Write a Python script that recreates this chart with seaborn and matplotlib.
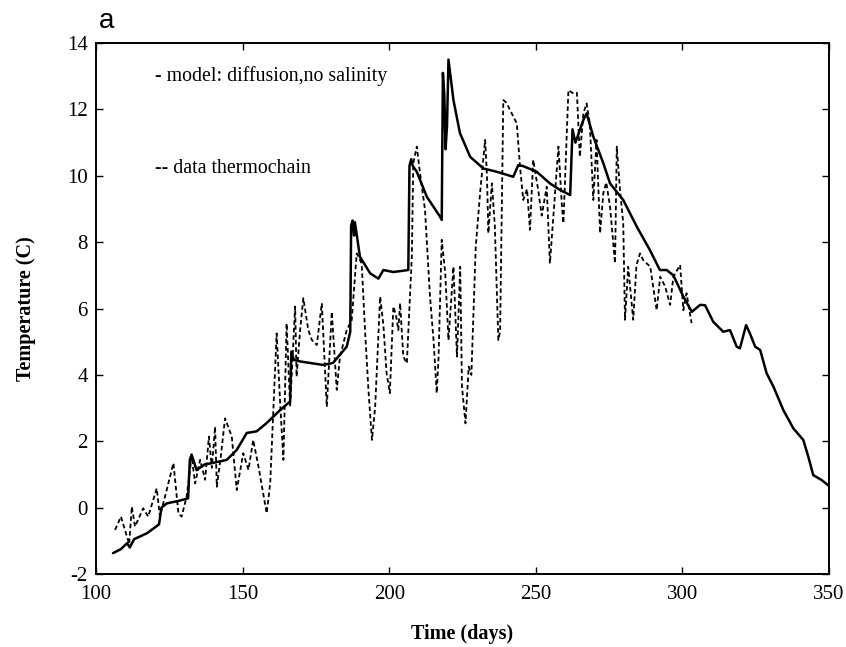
import matplotlib
matplotlib.use("Agg")
import matplotlib.pyplot as plt
import seaborn as sns
import pandas as pd

# ---- data ----
model_day = [105.8, 108.5, 110.6, 111.5, 113.0, 117.4, 120.8, 121.5, 122.3, 124.2, 128.0, 131.4,
             132.0, 132.6, 134.3, 137.0, 140.0, 144.6, 148.0, 151.4, 154.8, 158.2, 162.8, 166.2,
             166.6, 167.5, 170.0, 177.4, 180.8, 185.5, 186.7, 187.0, 187.5, 188.0, 188.3, 190.0,
             193.5, 196.3, 198.0, 201.4, 206.5, 206.9, 207.5, 208.0, 209.4, 212.8, 217.3, 217.9,
             218.3, 218.8, 219.2, 219.7, 220.2, 221.9, 224.1, 227.6, 232.1, 236.7, 242.3, 244.0,
             245.7, 250.3, 254.8, 258.3, 261.7, 262.5, 263.5, 266.2, 267.3, 269.6, 273.0, 275.3,
             279.8, 284.4, 288.9, 292.3, 294.6, 296.9, 300.3, 303.2, 306.0, 307.7, 310.5, 313.9,
             316.2, 318.5, 319.6, 321.7, 323.0, 324.8, 326.5, 328.7, 331.0, 334.4, 337.8, 341.2,
             342.9, 344.6, 347.5, 350.3]
model_temp = [-1.37, -1.25, -1.07, -1.2, -0.95, -0.77, -0.55, -0.5, 0.0, 0.13, 0.2, 0.28,
              1.45, 1.6, 1.13, 1.3, 1.35, 1.44, 1.74, 2.25, 2.3, 2.55, 2.94, 3.2,
              4.7, 4.45, 4.4, 4.3, 4.36, 4.85, 5.3, 8.5, 8.65, 8.2, 8.6, 7.56,
              7.06, 6.9, 7.16, 7.1, 7.16, 10.3, 10.5, 10.3, 10.12, 9.37, 8.77, 8.67,
              13.1, 12.4, 10.8, 11.5, 13.5, 12.28, 11.29, 10.57, 10.22, 10.12, 9.97, 10.32,
              10.29, 10.12, 9.77, 9.57, 9.42, 11.4, 11.0, 11.68, 11.88, 11.18, 10.38, 9.77,
              9.27, 8.47, 7.76, 7.16, 7.16, 7.0, 6.36, 5.9, 6.11, 6.1, 5.6, 5.3,
              5.35, 4.85, 4.8, 5.5, 5.25, 4.85, 4.75, 4.05, 3.65, 2.94, 2.39, 2.04,
              1.54, 0.98, 0.83, 0.63]

data_day = [106.5, 108.5, 110.5, 111.3, 112.2, 113.3, 116.1, 117.8, 120.7, 121.8, 123.5, 126.4,
            128.1, 129.2, 130.9, 132.6, 133.8, 135.5, 137.2, 138.5, 139.5, 140.6, 141.2, 142.5,
            144.0, 146.3, 148.0, 150.2, 152.0, 153.6, 155.4, 158.2, 159.4, 161.6, 162.8, 163.9,
            165.0, 166.2, 167.9, 168.4, 169.6, 170.7, 172.4, 173.6, 175.3, 177.0, 178.7, 180.4,
            182.1, 183.2, 185.5, 187.2, 188.9, 190.6, 191.8, 192.9, 194.1, 195.2, 196.9, 198.0,
            199.1, 200.2, 201.4, 202.3, 203.1, 203.7, 204.8, 206.0, 207.7, 208.2, 209.4, 210.5,
            212.2, 213.9, 215.1, 216.2, 216.8, 217.9, 219.1, 220.2, 221.9, 223.1, 224.2, 224.8,
            226.0, 227.1, 228.0, 229.5, 231.0, 232.7, 233.3, 233.8, 235.0, 236.0, 237.2, 237.8,
            238.9, 240.0, 241.2, 243.5, 244.6, 245.7, 247.0, 248.0, 249.1, 250.8, 252.0, 253.7,
            254.8, 256.3, 257.7, 258.9, 259.4, 261.1, 262.8, 264.0, 265.0, 266.2, 267.3, 268.4,
            269.6, 270.7, 271.9, 273.0, 274.0, 275.3, 277.0, 277.6, 278.7, 279.8, 280.4, 281.5,
            283.2, 284.3, 285.5, 286.6, 287.8, 289.0, 291.2, 292.4, 294.1, 295.8, 296.9, 299.2,
            300.3, 301.4, 303.1]
data_temp = [-0.67, -0.27, -0.87, -1.1, 0.03, -0.57, -0.02, -0.27, 0.58, -0.27, 0.33, 1.34,
             -0.17, -0.27, 0.33, 1.54, 0.73, 1.44, 0.84, 2.14, 1.2, 2.44, 0.63, 1.5,
             2.69, 2.14, 0.53, 1.64, 1.14, 2.04, 1.24, -0.17, 0.73, 5.25, 3.14, 1.44,
             5.55, 3.04, 6.06, 3.95, 5.35, 6.31, 5.35, 5.05, 4.9, 6.16, 3.04, 5.9,
             3.55, 4.55, 5.35, 5.65, 7.66, 7.36, 5.25, 3.55, 2.04, 3.04, 6.36, 5.5,
             4.05, 3.45, 6.06, 5.8, 5.35, 6.16, 4.55, 4.35, 7.56, 10.38, 10.88, 10.07,
             8.97, 6.36, 5.05, 3.45, 4.5, 8.07, 7.06, 5.05, 7.26, 4.55, 7.26, 3.65,
             2.54, 4.25, 4.0, 7.86, 9.5, 11.08, 10.07, 8.27, 9.77, 8.5, 5.05, 5.3,
             12.28, 12.2, 11.98, 11.58, 10.27, 9.27, 9.6, 8.37, 10.48, 9.57, 8.8, 9.67,
             7.36, 9.2, 10.88, 9.07, 8.57, 12.58, 12.48, 12.5, 10.57, 11.88, 12.18, 11.58,
             9.27, 11.08, 8.27, 9.47, 9.8, 9.07, 7.36, 10.88, 9.57, 8.57, 5.66, 7.26,
             5.66, 7.3, 7.66, 7.46, 7.36, 7.26, 5.95, 6.96, 6.66, 6.11, 6.96, 7.31,
             5.95, 6.46, 5.56]

x_ticks = [100, 150, 200, 250, 300, 350]
y_ticks = [-2, 0, 2, 4, 6, 8, 10, 12, 14]

# ---- style ----
sns.set_theme(style="ticks")
plt.rcParams['font.family'] = ['Liberation Serif', 'DejaVu Serif']
plt.rcParams['axes.linewidth'] = 1.4
plt.rcParams['text.color'] = 'black'
plt.rcParams['axes.labelcolor'] = 'black'

fig = plt.figure(figsize=(8.46, 6.47), dpi=100)
ax = fig.add_axes([0.1135, 0.1128, 0.8665, 0.8207])

model_df = pd.DataFrame({"day": model_day, "temp": model_temp})
data_df = pd.DataFrame({"day": data_day, "temp": data_temp})

sns.lineplot(data=model_df, x="day", y="temp", ax=ax, color="black", linewidth=1.8,
             estimator=None, sort=False)
sns.lineplot(data=data_df, x="day", y="temp", ax=ax, color="black", linewidth=1.3,
             estimator=None, sort=False, dashes=False)
ax.lines[-1].set_dashes([2.5, 1.6])

ax.set_xlim(100, 350)
ax.set_ylim(-2, 14)
ax.set_xticks(x_ticks)
ax.set_yticks(y_ticks)
ax.set_xticklabels([str(t) for t in x_ticks])
ax.set_yticklabels([str(t) for t in y_ticks])
ax.tick_params(direction="in", top=True, right=True, length=5, width=1.0,
               labelsize=15, colors="black")
ax.tick_params(axis="x", pad=8)
ax.tick_params(axis="y", pad=6)
for s in ax.spines.values():
    s.set_color("black")
    s.set_visible(True)

ax.set_xlabel("Time (days)", fontsize=14.5, fontweight="bold", labelpad=14, color="black")
ax.set_ylabel("Temperature (C)", fontsize=14.5, fontweight="bold", labelpad=22, color="black")

ax.text(120.1, 12.86, "- model: diffusion,no salinity", fontsize=14.3, va="baseline", ha="left",
        color="black")
ax.text(120.1, 10.09, "-- data thermochain", fontsize=14.3, va="baseline", ha="left",
        color="black")

fig.text(0.117, 0.957, "a", fontsize=20, family=["Liberation Sans", "DejaVu Sans"],
         va="baseline", ha="left", color="black")

fig.savefig("out.png", dpi=100)
